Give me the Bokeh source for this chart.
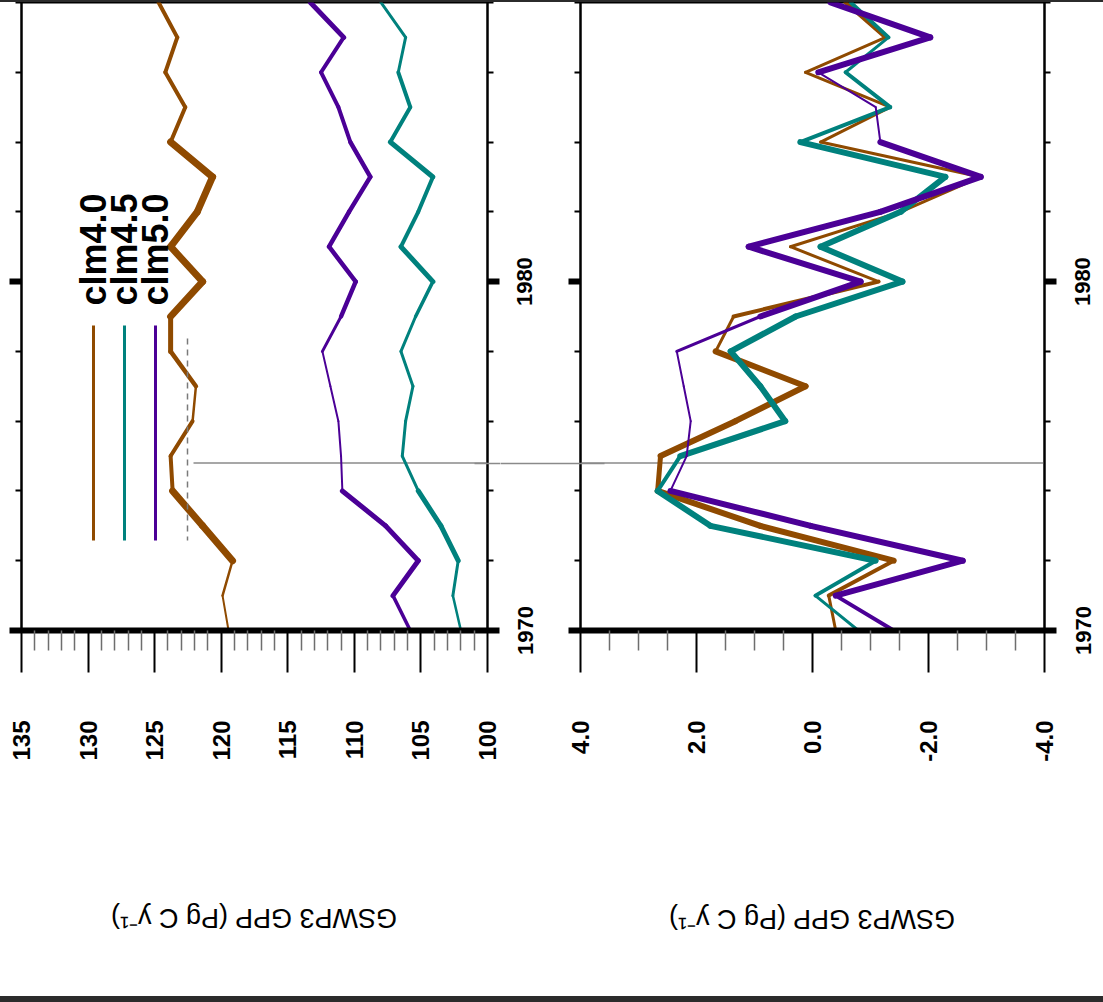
import math
from bokeh.plotting import figure
from bokeh.models import (FixedTicker, Range1d, ColumnDataSource,
                          PrintfTickFormatter, LinearAxis)
from bokeh.layouts import row
from bokeh.embed import file_html
from bokeh.resources import INLINE
from bokeh.core.properties import value

# ---------------- data ----------------
years = list(range(1970, 1989))
series_names = ["clm4.0", "clm4.5", "clm5.0"]

gpp_clm40 = [119.45, 119.9, 119.15, 121.4, 123.65, 123.8, 122.15, 121.9, 123.8, 123.8,
             121.4, 123.8, 121.8, 120.65, 123.8, 122.7, 124.2, 123.3, 124.7]
gpp_clm45 = [102.0, 102.6, 102.2, 103.5, 105.2, 106.4, 106.15, 105.6, 106.5, 105.4,
             104.1, 106.5, 105.2, 104.1, 107.3, 105.8, 106.7, 106.15, 108.0]
gpp_clm50 = [105.8, 107.1, 105.2, 107.65, 110.9, 111.0, 111.2, 111.8, 112.4, 111.0,
             109.9, 111.9, 110.4, 108.8, 110.3, 111.2, 112.5, 110.8, 113.3]

anom_clm40 = [-0.40, -0.28, -1.40, 0.90, 2.67, 2.62, 1.33, 0.12, 1.67, 1.36,
              -1.14, 0.38, -1.52, -2.90, -0.14, -1.34, 0.12, -1.26, -0.57]
anom_clm45 = [-0.79, -0.05, -1.09, 1.76, 2.67, 2.28, 0.47, 0.90, 1.41, 0.29,
              -1.55, -0.14, -1.52, -2.29, 0.21, -1.34, -0.57, -1.31, -0.66]
anom_clm50 = [-1.40, -0.40, -2.59, 0.03, 2.45, 2.17, 2.10, 2.22, 2.34, 0.90,
              -0.83, 1.10, -1.17, -2.90, -1.17, -1.09, -0.10, -2.03, -0.31]

gpp_ticks = [100, 105, 110, 115, 120, 125, 130, 135]
gpp_minor = [v for v in range(100, 136) if v % 5 != 0]
anom_ticks = [-4.0, -2.0, 0.0, 2.0, 4.0]
anom_minor = [-3.5, -3.0, -2.5, -1.5, -1.0, -0.5, 0.5, 1.0, 1.5, 2.5, 3.0, 3.5]
year_ticks = [1970, 1980]
year_minor = [1972, 1974, 1976, 1978, 1982, 1984, 1986, 1988]
marker_year = 1974.8
y_title = "GSWP3 GPP (Pg C y\u207b\u00b9)"

# ---------------- styles ----------------
colors = ["#8f4a00", "#00817d", "#4b0096"]
# per-segment line widths (1970-71 ... 1987-88)
w_gpp = [
    [2, 2.5, 7, 7, 4, 4, 2.5, 4.5, 5, 7, 7, 7, 7, 7, 4, 4, 4, 4],
    [2.5, 3, 5, 5, 3, 3, 3, 3, 3, 3.5, 5, 4, 4, 5, 4, 4, 3, 3],
    [3.5, 5, 5, 5, 2, 2, 2, 2, 3, 4.5, 4.5, 4.5, 4.5, 4.5, 4, 4, 4, 5],
]
w_anom = [
    [3, 4, 6, 6, 5, 6, 6, 6, 3, 4, 3, 3, 3, 3, 3, 3, 3, 4],
    [3, 4, 6, 6, 4, 6, 6, 6, 6, 6, 6, 6, 6, 6, 4, 4, 3, 4],
    [4, 6, 6, 6, 2, 2, 2, 2, 3, 6, 6, 6, 6, 6, 2, 2, 6, 6],
]
MARK_COLOR = "#8a8a8a"
FONT = "Liberation Sans"
FRAME_H = 628
BOTTOM = 366
Y0, Y1 = 1970, 1988
PX_PER_YR = FRAME_H / (Y1 - Y0)


def yr_at(py):
    return Y0 + (630 - py) / PX_PER_YR


def hide_labels(ax):
    ax.major_label_text_color = None
    ax.major_label_text_font_size = "0px"
    ax.major_label_standoff = 0


def show_year_labels(ax, standoff):
    ax.major_label_orientation = "vertical"
    ax.major_label_standoff = standoff
    ax.major_label_text_font = FONT
    ax.major_label_text_font_style = "bold"
    ax.major_label_text_font_size = "22px"
    ax.major_label_text_color = "black"


def year_tick_axis():
    ax = LinearAxis(ticker=FixedTicker(ticks=year_ticks, minor_ticks=year_minor))
    ax.axis_line_width = 2
    ax.axis_line_color = "black"
    ax.major_tick_in = 0
    ax.major_tick_out = 12
    ax.major_tick_line_width = 6
    ax.minor_tick_in = 0
    ax.minor_tick_out = 6
    ax.minor_tick_line_width = 2
    return ax


def marker_axis(tick_in, tick_out):
    # carries the grey marker line across the gap between the two panels
    ax = LinearAxis(ticker=FixedTicker(ticks=year_ticks, minor_ticks=[marker_year]))
    ax.axis_line_color = None
    ax.major_tick_line_color = None
    ax.major_tick_in = 0
    ax.major_tick_out = 0
    ax.minor_tick_in = tick_in
    ax.minor_tick_out = tick_out
    ax.minor_tick_line_color = MARK_COLOR
    ax.minor_tick_line_width = 1.5
    hide_labels(ax)
    return ax


def base_figure(frame_w, left_b, right_b, x_start, x_end):
    p = figure(frame_width=frame_w, frame_height=FRAME_H,
               x_range=Range1d(x_start, x_end), y_range=Range1d(Y0, Y1),
               min_border_left=left_b, min_border_right=right_b,
               min_border_top=0, min_border_bottom=BOTTOM,
               x_axis_location=None, y_axis_location=None,
               output_backend="svg", toolbar_location=None)
    p.xgrid.visible = False
    p.ygrid.visible = False
    p.background_fill_color = "white"
    p.border_fill_color = "white"
    return p


def make_panel(x_start, x_end, frame_x0, frame_w, left_b, right_b, ticks, minor, fmt,
               title_px):
    p = base_figure(frame_w, left_b, right_b, x_start, x_end)
    p.outline_line_color = "black"
    p.outline_line_width = 2

    def val_at(px):
        return x_start + (px - frame_x0) * (x_end - x_start) / frame_w

    bx = LinearAxis(ticker=FixedTicker(ticks=ticks, minor_ticks=minor))
    if fmt:
        bx.formatter = PrintfTickFormatter(format=fmt)
    bx.axis_line_width = 6
    bx.axis_line_color = "black"
    bx.major_tick_in = 0
    bx.major_tick_out = 42
    bx.major_tick_line_width = 2
    bx.minor_tick_in = 0
    bx.minor_tick_out = 20
    bx.minor_tick_line_width = 1.5
    bx.minor_tick_line_color = "#6e6e6e"
    bx.major_label_orientation = math.pi / 2
    bx.major_label_standoff = 48
    bx.major_label_text_font = FONT
    bx.major_label_text_font_style = "bold"
    bx.major_label_text_font_size = "24px"
    bx.major_label_text_color = "black"
    p.add_layout(bx, "below")

    # y-axis title of the original chart, drawn upside down under the tick labels
    anchor = round(val_at(title_px), 4)
    tx = LinearAxis(ticker=FixedTicker(ticks=[anchor], minor_ticks=[]),
                    major_label_overrides={anchor: y_title})
    tx.axis_line_color = None
    tx.major_tick_line_color = None
    tx.major_tick_in = 0
    tx.major_tick_out = 0
    tx.minor_tick_line_color = None
    tx.major_label_orientation = math.pi
    tx.major_label_standoff = 154
    tx.major_label_text_font = FONT
    tx.major_label_text_font_size = "27px"
    tx.major_label_text_color = "black"
    p.add_layout(tx, "below")

    return p, val_at


def draw_series(p, vals_list, widths_list):
    for vals, widths, col in zip(vals_list, widths_list, colors):
        src = ColumnDataSource(dict(x0=vals[:-1], x1=vals[1:], y0=years[:-1], y1=years[1:], w=widths))
        p.segment(x0="x0", y0="y0", x1="x1", y1="y1", source=src, line_color=col,
                  line_width="w", line_cap="round", line_join="round")


# ---------------- left panel: absolute GPP ----------------
p1, v1 = make_panel(135, 100, 21, 466, 21, 13, gpp_ticks, gpp_minor, None, 110)
ax = year_tick_axis()
hide_labels(ax)
p1.add_layout(ax, "left")
ax = year_tick_axis()
hide_labels(ax)
p1.add_layout(ax, "right")
p1.add_layout(marker_axis(25, 1), "right")

p1.segment(x0=[v1(193)], x1=[100], y0=[marker_year], y1=[marker_year],
           line_color=MARK_COLOR, line_width=1.5)
draw_series(p1, [gpp_clm40, gpp_clm45, gpp_clm50], w_gpp)

# legend (drawn sideways like the page)
leg_px = [93, 124, 155]
p1.segment(x0=[v1(px) for px in leg_px], x1=[v1(px) for px in leg_px],
           y0=[yr_at(325)] * 3, y1=[yr_at(540)] * 3, line_color=colors, line_width=3)
p1.segment(x0=[v1(187)], x1=[v1(187)], y0=[yr_at(338)], y1=[yr_at(540)],
           line_color="#7a7a7a", line_width=1.5, line_dash="6 5")
p1.text(x=[v1(px) for px in leg_px], y=[yr_at(305)] * 3, text=series_names,
        angle=math.pi / 2, text_align="left", text_baseline="middle",
        text_font=value(FONT), text_font_style="bold", text_font_size="36px",
        text_color="black")

# ---------------- right panel: anomalies ----------------
p2, v2 = make_panel(4, -4, 580, 464, 80, 16, anom_ticks, anom_minor, "%.1f", 668)
ax = year_tick_axis()
show_year_labels(ax, 36)          # year labels of the left panel sit in the gap
p2.add_layout(ax, "left")
p2.add_layout(marker_axis(90, 14), "left")
ax = year_tick_axis()
hide_labels(ax)
p2.add_layout(ax, "right")

p2.segment(x0=[4], x1=[-4], y0=[marker_year], y1=[marker_year],
           line_color=MARK_COLOR, line_width=1.5)
draw_series(p2, [anom_clm40, anom_clm45, anom_clm50], w_anom)

# ---------------- year labels of the right panel ----------------
p3 = base_figure(2, 41, 0, 0, 1)
p3.outline_line_color = None
ax = LinearAxis(ticker=FixedTicker(ticks=year_ticks, minor_ticks=[]))
ax.axis_line_color = None
ax.major_tick_line_color = None
ax.major_tick_in = 0
ax.major_tick_out = 0
show_year_labels(ax, 11)
p3.add_layout(ax, "left")

layout = row(p1, p2, p3, styles={"border-top": "2px solid #2b2b2b",
                                 "border-bottom": "6px solid #2b2b2b"})

open("out.html", "w").write(file_html(layout, INLINE))
